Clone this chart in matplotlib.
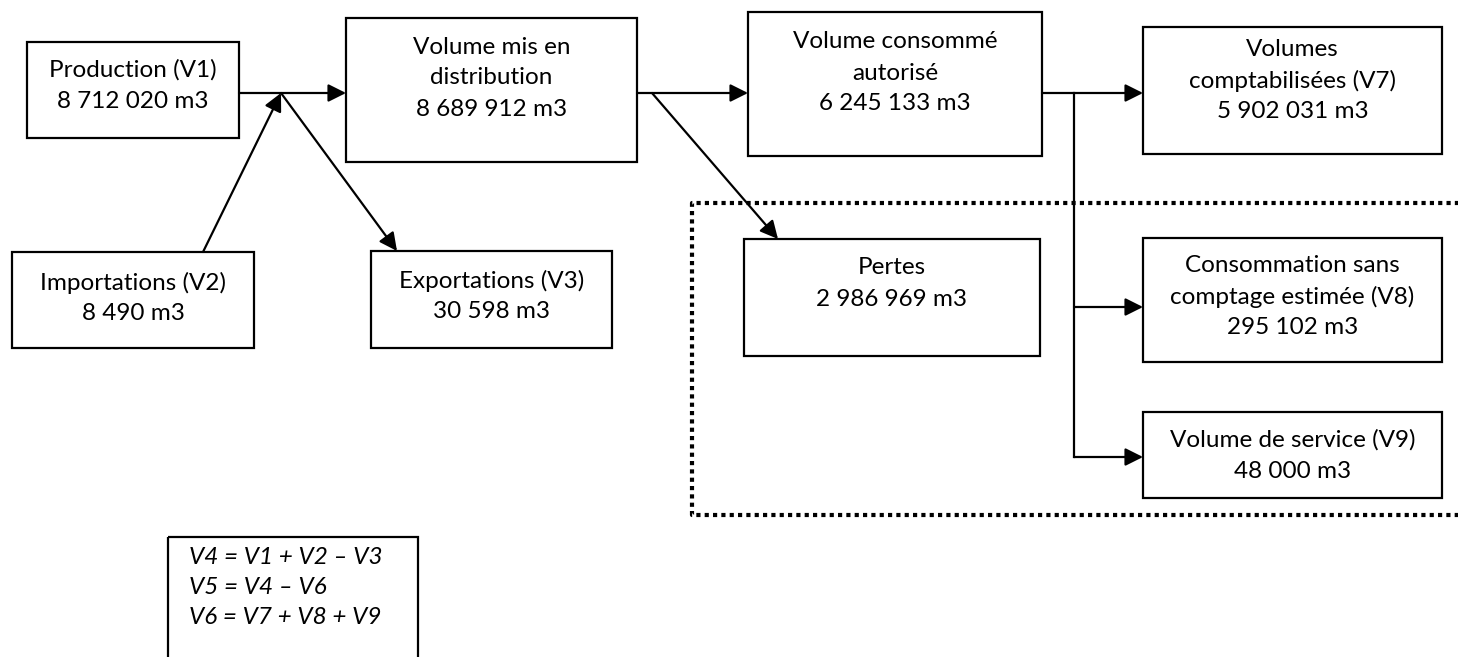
import matplotlib
matplotlib.use("Agg")
import matplotlib.pyplot as plt
from matplotlib.patches import Rectangle

plt.rcParams['font.family'] = ['Lato', 'DejaVu Sans']

# donnees du schema
labels = ["Production (V1)", "Importations (V2)", "Exportations (V3)",
          "Volume mis en\ndistribution", "Volume consommé\nautorisé", "Pertes",
          "Volumes\ncomptabilisées (V7)", "Consommation sans\ncomptage estimée (V8)",
          "Volume de service (V9)"]
volumes = ["8 712 020", "8 490", "30 598", "8 689 912", "6 245 133",
           "2 986 969", "5 902 031", "295 102", "48 000"]
unit = "m3"
formulas = ["V4 = V1 + V2 – V3", "V5 = V4 – V6", "V6 = V7 + V8 + V9"]

# mise en page (pixels, y vers le bas)
boxes = [(27, 42, 239, 138), (12, 252, 254, 348), (371, 251, 612, 348),
         (346, 18, 637, 162), (748, 12, 1042, 156), (744, 239, 1040, 356),
         (1143, 27, 1442, 154), (1143, 238, 1442, 362), (1143, 412, 1442, 498)]
first_line = [70, 283, 281, 47, 42, 268, 50, 266, 440]
line_gap = 31

arrows = [((239, 93), (346, 93)), ((203, 252), (281, 93)), ((281, 93), (397, 251)),
          ((637, 93), (748, 93)), ((652, 93), (778, 239)), ((1042, 93), (1143, 93)),
          ((1074, 307), (1143, 307)), ((1074, 457), (1143, 457))]
plain_lines = [((1074, 93), (1074, 457))]

W, H = 1458, 657
fig = plt.figure(figsize=(W / 100, H / 100), dpi=100)
ax = fig.add_axes([0, 0, 1, 1])
ax.set_xlim(0, W)
ax.set_ylim(H, 0)
ax.axis('off')

fs = 17.5
for (x0, y0, x1, y1), lab, vol, fy in zip(boxes, labels, volumes, first_line):
    ax.add_patch(Rectangle((x0, y0), x1 - x0, y1 - y0, fill=False, lw=1.6, ec='black'))
    lines = lab.split("\n") + [vol + " " + unit]
    cx = (x0 + x1) / 2
    for i, t in enumerate(lines):
        ax.text(cx, fy + i * line_gap, t, ha='center', va='center', fontsize=fs)

for (a, b) in arrows:
    ax.annotate("", xy=b, xytext=a,
                arrowprops=dict(arrowstyle='-|>,head_length=0.6,head_width=0.3',
                                mutation_scale=18, lw=1.6, color='black',
                                shrinkA=0, shrinkB=0))
for (a, b) in plain_lines:
    ax.plot([a[0], b[0]], [a[1], b[1]], color='black', lw=1.6)

# cadre pointille des pertes / consommations non comptees
ax.plot([1470, 692, 692, 1470], [203, 203, 515, 515], color='black', lw=3,
        linestyle=(0, (1, 1)), solid_capstyle='butt', dash_capstyle='butt')

# encadre des formules
ax.add_patch(Rectangle((168, 537), 250, 150, fill=False, lw=1.6, ec='black'))
for i, f in enumerate(formulas):
    ax.text(189, 558 + i * 30, f, ha='left', va='center', fontsize=fs, style='italic')

fig.savefig("out.png", dpi=100)
